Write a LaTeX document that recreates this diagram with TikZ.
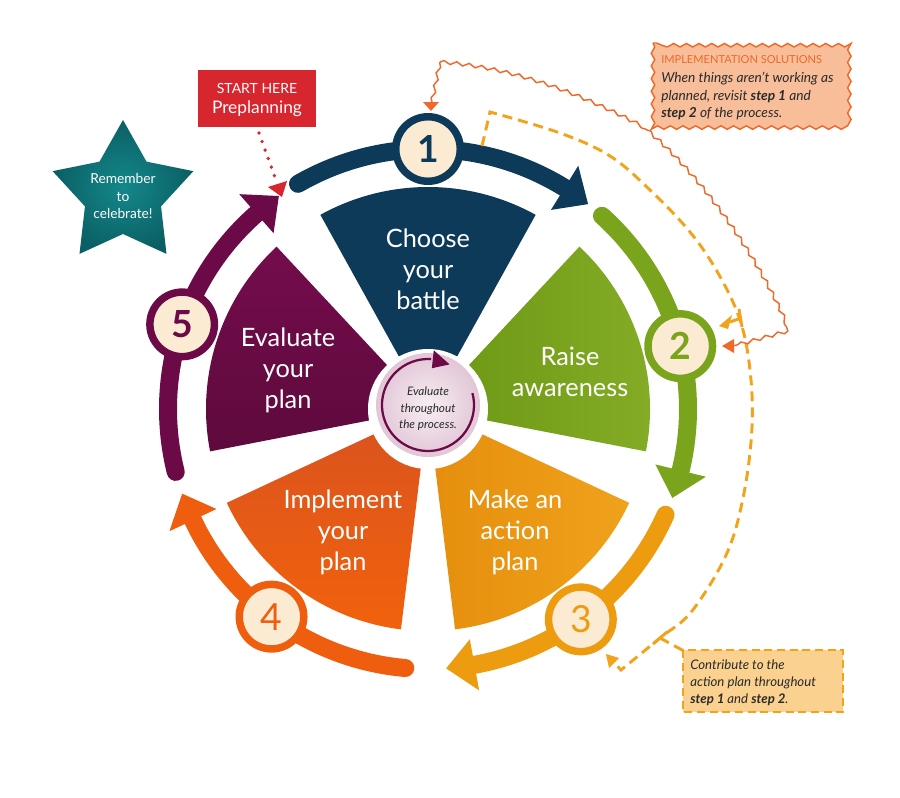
\documentclass[tikz,border=0pt]{standalone}
\usepackage{fontspec}
\setmainfont{Lato}
\usetikzlibrary{decorations.pathmorphing}
\definecolor{navy}{HTML}{0E3A5A}
\definecolor{grnA}{HTML}{6A9712}
\definecolor{grnB}{HTML}{85AC27}
\definecolor{grn}{HTML}{7BA41D}
\definecolor{yel}{HTML}{EE9C0F}
\definecolor{yelA}{HTML}{E58E0D}
\definecolor{yelB}{HTML}{F0A21C}
\definecolor{org}{HTML}{EE5E0E}
\definecolor{orgA}{HTML}{D9521F}
\definecolor{orgB}{HTML}{F1620C}
\definecolor{mar}{HTML}{6C0A47}
\definecolor{marA}{HTML}{740C4C}
\definecolor{marB}{HTML}{5E0A3D}
\definecolor{cream}{HTML}{FBEBD2}
\definecolor{redbox}{HTML}{D7262E}
\definecolor{tealA}{HTML}{14888A}
\definecolor{tealB}{HTML}{0A5F64}
\definecolor{wavyc}{HTML}{EE6A2A}
\definecolor{peach}{HTML}{F8BD99}
\definecolor{dashc}{HTML}{F2A31B}
\definecolor{lpeach}{HTML}{FAD18F}
\definecolor{pinkA}{HTML}{F6EEF3}
\definecolor{pinkB}{HTML}{E2C6D6}
\definecolor{txt}{HTML}{2A2A2A}
\begin{document}
\begin{tikzpicture}[x=0.75pt,y=0.75pt,
  wtext/.style={text=white, align=center, font=\fontsize{19}{23.3}\selectfont},
  numc/.style={circle, fill=cream, line width=5.6pt, minimum size=48.4pt, inner sep=0pt},
  ringarc/.style={line width=13.5pt, line cap=round},
  wavyl/.style={draw=wavyc, line width=1.1pt, decorate, decoration={snake, segment length=9.5pt, amplitude=1.3pt}},
  dashl/.style={draw=dashc, line width=2.2pt, dash pattern=on 7.5pt off 4.5pt},
  itx/.style={anchor=base west, inner sep=0pt, text=txt, font=\fontsize{10.3}{12}\selectfont\itshape},
  btx/.style={itx, font=\fontsize{9.9}{12}\selectfont\itshape},
]
\useasboundingbox (0,0) rectangle (900,-797);
\fill[white] (0,0) rectangle (900,-797);

% wedges
\begin{scope}[shift={(428,-409)}]
\fill[navy] (0,0) -- (61:222) arc[start angle=61, end angle=119, radius=222] -- cycle;
\shade[left color=grnA, right color=grnB] (0,0) -- (-11:222) arc[start angle=-11, end angle=47, radius=222] -- cycle;
\shade[left color=yelA, right color=yelB] (0,0) -- (-83:222) arc[start angle=-83, end angle=-25, radius=222] -- cycle;
\shade[top color=orgA, bottom color=orgB] (0,0) -- (-155:222) arc[start angle=-155, end angle=-97, radius=222] -- cycle;
\shade[top color=marA, bottom color=marB] (0,0) -- (133:222) arc[start angle=133, end angle=191, radius=222] -- cycle;
\fill[white] (0,0) circle (60);
\end{scope}

\node[wtext] (t1) at (428,-269) {Choose\\your\\battle};
\node[wtext] (t2) at (570,-372) {Raise\\awareness};
\node[wtext] (t3) at (515,-532) {Make an\\action\\plan};
\node[wtext] (t4) at (343,-532) {Implement\\your\\plan};
\node[wtext] (t5) at (288,-370) {Evaluate\\your\\plan};

% center disc
\shade[inner color=pinkA, outer color=pinkB] (428,-405) circle (52);
\begin{scope}[shift={(428,-405)}]
 \draw[mar, line width=1.7pt] (15:46) arc[start angle=15, end angle=-274, radius=46];
 \fill[mar] (62:46) -- (84:37) -- (84:55) -- cycle;
\end{scope}
\node[align=center, text=txt, font=\fontsize{8.8}{12.3}\selectfont\itshape] (ctext) at (428,-409) {Evaluate\\throughout\\the process.};

% ring arcs and numbers
\begin{scope}[shift={(428,-409)}]
\foreach \s/\t/\c in {120/52/navy,48/-20/grn,-24/-86/yel,-95/-161/org,194/125/mar}{
  \pgfmathsetmacro\b{\t+6.3}
  \pgfmathsetmacro\e{\t+5.5}
  \draw[ringarc, \c] (\s:260) arc[start angle=\s, end angle=\e, radius=260];
  \fill[\c] (\t:260) -- (\b:234) -- (\b:286) -- cycle;
}
\node[numc, draw=navy, text=navy, font=\fontsize{28}{28}\selectfont\bfseries] (n1) at (90:260) {1};
\node[numc, draw=grn, text=grn, font=\fontsize{28}{28}\selectfont\bfseries] (n2) at (14:260) {2};
\node[numc, draw=yel, text=yel, font=\fontsize{28}{28}\selectfont] (n3) at (-54:260) {3};
\node[numc, draw=org, text=org, font=\fontsize{28}{28}\selectfont] (n4) at (-127:260) {4};
\node[numc, draw=mar, text=mar, font=\fontsize{28}{28}\selectfont\bfseries] (n5) at (161:260) {5};
\end{scope}

% star
\begin{scope}[shift={(123,-194)}]
\shade[inner color=tealA, outer color=tealB] (90:74) -- (126:40) -- (162:74) -- (198:40) -- (234:74) -- (270:40) -- (306:74) -- (342:40) -- (18:74) -- (54:40) -- cycle;
\end{scope}
\node[text=white, align=center, font=\fontsize{10.3}{13}\selectfont] (star) at (123,-196) {Remember\\to\\celebrate!};

% start here
\fill[redbox] (198,-70) rectangle (316,-127);
\node[text=white, font=\fontsize{10.5}{12}\selectfont] (sh) at (257,-88) {START HERE};
\node[text=white, font=\fontsize{13}{15}\selectfont] (pp) at (257,-109) {Preplanning};
\draw[redbox, line width=2.8pt, line cap=round, dash pattern=on 0pt off 6.8pt] (259,-133) -- (276,-180);
\fill[redbox] (282,-197) -- (268,-187) -- (287,-181) -- cycle;

% dashed path
\draw[dashl] (482,-146) -- (490,-112) -- plot[smooth, tension=0.6] coordinates {(490,-112) (560,-133) (610,-156) (650,-190) (690,-232) (718,-273) (740,-320) (750,-370) (752,-427) (744,-493) (727,-553) (692,-611) (660,-638) (621,-670)} -- (612,-660);
\fill[dashc] (606,-654) -- (619,-658) -- (609,-668) -- cycle;
\draw[dashc, line width=2.2pt] (741,-318) -- (730,-322);
\fill[dashc] (719,-326) -- (732,-315) -- (728,-329) -- cycle;
\draw[dashc, line width=2.2pt] (739,-309) -- (742,-327);
\draw[dashl] (660,-638) -- (684,-651);
\draw[dashc, line width=2.2pt] (653,-644) -- (667,-632);

% wavy path
\draw[wavyl] (432,-102) -- (440,-62);
\draw[wavyl] (440,-62) .. controls (520,-68) and (590,-100) .. (647,-130);
\draw[wavyl] (647,-130) .. controls (700,-175) and (760,-260) .. (788,-331);
\draw[wavyl] (788,-331) -- (733,-346);
\fill[wavyc] (431,-111) -- (423,-102) -- (439,-102) -- cycle;
\fill[wavyc] (722,-346) -- (734,-339) -- (734,-353) -- cycle;

% top box
\draw[wavyl, fill=peach] (653,-43) rectangle (848,-126);
\node[anchor=base west, inner sep=0pt, text=wavyc, font=\fontsize{8.3}{10}\selectfont] (ist) at (661,-63) {IMPLEMENTATION SOLUTIONS};
\node[itx] (i1) at (661,-82) {When things aren’t working as};
\node[itx] (i2) at (661,-100) {planned, revisit \textbf{step 1} and};
\node[itx] (i3) at (661,-117) {\textbf{step 2} of the process.};

% bottom box
\draw[dashc, line width=1.8pt, dash pattern=on 6pt off 3.5pt, fill=lpeach] (683,-650) rectangle (843,-712);
\node[btx] (b1) at (690,-669) {Contribute to the};
\node[btx] (b2) at (690,-686) {action plan throughout};
\node[btx] (b3) at (690,-703) {\textbf{step 1} and \textbf{step 2}.};
\end{tikzpicture}
\end{document}
